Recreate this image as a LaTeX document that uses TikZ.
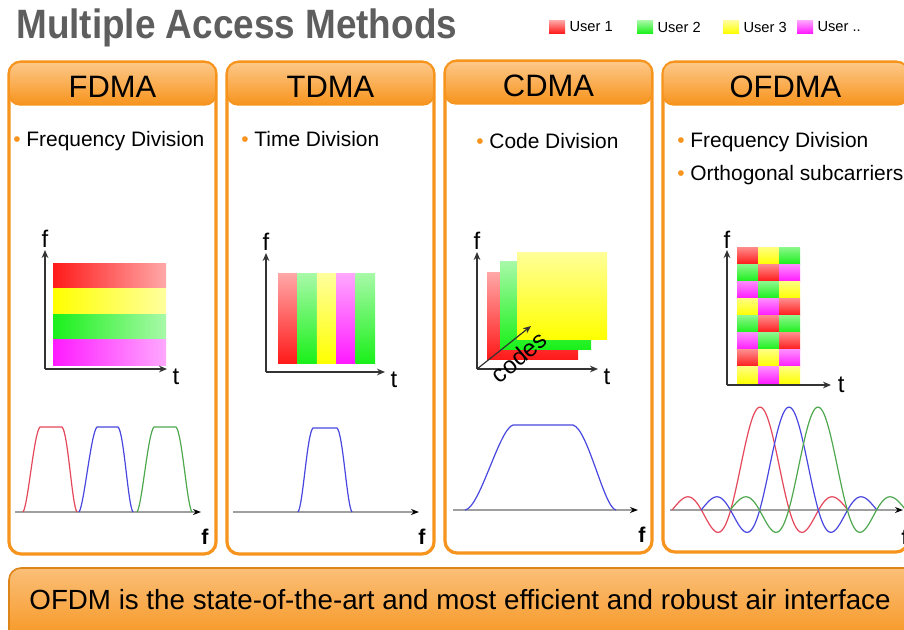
\documentclass[tikz,border=0pt]{standalone}
\usepackage{fontspec}
\setmainfont{Liberation Sans}
\usepackage{tikz}
\usetikzlibrary{positioning}
\usetikzlibrary{arrows.meta}

\definecolor{mborange}{HTML}{F7941D}
\definecolor{mblight}{HTML}{FDC889}
\definecolor{titlegrey}{HTML}{5E5E5E}
\definecolor{axisgrey}{HTML}{333333}
\definecolor{ured}{HTML}{FF1A1A}
\definecolor{ugreen}{HTML}{1AF01A}
\definecolor{uyellow}{HTML}{FFFF00}
\definecolor{umagenta}{HTML}{FF1AFF}
\definecolor{specred}{HTML}{E5485A}
\definecolor{specblue}{HTML}{4848E0}
\definecolor{specgreen}{HTML}{4FA84F}

\tikzset{
  panelbox/.style={draw=mborange, line width=2.4pt, rounded corners=9pt, fill=white},
  headbar/.style={draw=mborange, line width=1.2pt, rounded corners=8pt,
    top color=mblight, bottom color=mborange, minimum width=155pt, minimum height=32pt,
    font=\fontsize{23.2}{25}\selectfont, text height=21pt, text depth=0pt},
  bullettext/.style={anchor=base west, inner sep=0pt, font=\fontsize{15.7}{18}\selectfont},
  axis/.style={draw=axisgrey, line width=1.1pt, -{Stealth[length=6pt,width=5pt]}},
  faxis/.style={draw=gray!75, line width=1pt, -{Stealth[length=6pt,width=4.5pt,black]}},
  axislabel/.style={inner sep=0pt, font=\fontsize{18}{20}\selectfont},
  flabel/.style={inner sep=0pt, font=\fontsize{16}{18}\selectfont\bfseries},
  specline/.style={line width=0.9pt},
  legbox/.style={minimum width=12pt, minimum height=9.5pt, inner sep=0pt},
  legtext/.style={inner sep=0pt, font=\fontsize{11}{12}\selectfont}
}

\begin{document}
\begin{tikzpicture}[x=0.75pt,y=-0.75pt]
  \useasboundingbox (0,0) rectangle (904,629);
  \fill[white] (0,0) rectangle (904,629);

  % title and legend
  \node[anchor=base west, inner sep=0pt, text=titlegrey, font=\fontsize{30.75}{34}\selectfont\bfseries]
    (Title) at (16,38) {\scalebox{0.9}[1]{Multiple Access Methods}};
  \node[legbox, top color=ured!40, bottom color=ured] (LegOne) at (557,27) {};
  \node[legtext, right=3pt of LegOne] (UserOne) {User 1};
  \node[legbox, top color=ugreen!40, bottom color=ugreen] (LegTwo) at (645,27) {};
  \node[legtext, right=3pt of LegTwo] (UserTwo) {User 2};
  \node[legbox, top color=uyellow!40, bottom color=uyellow] (LegThree) at (731,27) {};
  \node[legtext, right=3pt of LegThree] (UserThree) {User 3};
  \node[legbox, top color=umagenta!40, bottom color=umagenta] (LegFour) at (805,27) {};
  \node[legtext, right=3pt of LegFour] (UserFour) {User ..};

  % panels
  \draw[panelbox] (9,62) rectangle (216,554);
  \draw[panelbox] (227,62) rectangle (434,554);
  \draw[panelbox] (445,61) rectangle (652,553);
  \draw[panelbox] (663,62) rectangle (908,552);
  \node[headbar] (FDMA) at (112.5,83.5) {FDMA};
  \node[headbar] (TDMA) at (330.5,83.5) {TDMA};
  \node[headbar] (CDMA) at (548.5,82.5) {CDMA};
  \node[headbar, minimum width=184pt] (OFDMA) at (785.5,83.5) {OFDMA};

  % bullets
  \node[bullettext] (BulFD) at (13,146) {\textcolor{mborange}{•}~Frequency Division};
  \node[bullettext] (BulTD) at (241,146) {\textcolor{mborange}{•}~Time Division};
  \node[bullettext] (BulCD) at (476,148) {\textcolor{mborange}{•}~Code Division};
  \node[bullettext] (BulOF) at (677,147) {\textcolor{mborange}{•}~Frequency Division};
  \node[bullettext] (BulOS) at (677,180) {\textcolor{mborange}{•}~Orthogonal subcarriers};

  % FDMA time-frequency
  \foreach \col [count=\i] in {ured,uyellow,ugreen,umagenta}
    \shade[left color=\col, right color=\col!38] (53,{263+(\i-1)*25.5}) rectangle (166,{263+\i*25.5});
  \coordinate (O1) at (45,369);
  \coordinate (F1) at (45,250);
  \coordinate (T1) at (167,369);
  \draw[axis] (O1) -- (F1);
  \draw[axis] (O1) -- (T1);
  \node[axislabel, above=2pt of F1] (f1) {f};
  \node[axislabel, below right=0pt and 4pt of T1] (t1) {t};

  % TDMA time-frequency
  \foreach \col [count=\i] in {ured,ugreen,uyellow,umagenta,ugreen}
    \shade[top color=\col!38, bottom color=\col] ({278+(\i-1)*19.4},273) rectangle ({278+\i*19.4},363);
  \coordinate (O2) at (266,372);
  \coordinate (F2) at (266,253);
  \coordinate (T2) at (385,372);
  \draw[axis] (O2) -- (F2);
  \draw[axis] (O2) -- (T2);
  \node[axislabel, above=2pt of F2] (f2) {f};
  \node[axislabel, below right=0pt and 4pt of T2] (t2) {t};

  % CDMA codes
  \shade[top color=ured!38, bottom color=ured] (487,272) rectangle (578,359);
  \shade[top color=ugreen!38, bottom color=ugreen] (500,261) rectangle (591,349);
  \shade[top color=uyellow!40, bottom color=uyellow] (517,252) rectangle (607,339);
  \coordinate (O3) at (477,369);
  \coordinate (F3) at (477,252);
  \coordinate (T3) at (598,369);
  \coordinate (C3) at (531,326);
  \draw[axis] (O3) -- (F3);
  \draw[axis] (O3) -- (T3);
  \draw[axis, line width=0.9pt] (O3) -- (C3);
  \node[axislabel, above=2pt of F3] (f3) {f};
  \node[axislabel, below right=0pt and 4pt of T3] (t3) {t};
  \node[axislabel, rotate=40] (codes) at (519,357) {codes};

  % OFDMA grid
  \foreach \row [count=\r] in {{ured,uyellow,ugreen},{ugreen,ured,umagenta},{umagenta,ugreen,uyellow},
      {uyellow,umagenta,ured},{ugreen,ured,ugreen},{umagenta,ugreen,ured},{ured,uyellow,umagenta},
      {uyellow,umagenta,uyellow}}
    \foreach \col [count=\k] in \row
      \shade[top color=\col!50, bottom color=\col] ({737+(\k-1)*21},{247+(\r-1)*17.1}) rectangle ({737+\k*21},{247+\r*17.1});
  \coordinate (O4) at (727,385);
  \coordinate (F4) at (727,250);
  \coordinate (T4) at (831,385);
  \draw[axis] (O4) -- (F4);
  \draw[axis] (O4) -- (T4);
  \node[axislabel, above=1pt of F4] (f4) {f};
  \node[axislabel, right=5pt of T4] (t4) {t};

  % spectra
  \coordinate (S1a) at (15,512);
  \coordinate (S1b) at (201,512);
  \draw[faxis] (S1a) -- (S1b);
  \node[flabel] (fs1) at (205,537) {f};
  \draw[specline, specred] (23,512) .. controls (28,506) and (34,432) .. (40,427) -- (62,427) .. controls (68,432) and (72,506) .. (77,512);
  \draw[specline, specblue] (79,512) .. controls (84,506) and (91,432) .. (97,427) -- (118,427) .. controls (124,432) and (128,506) .. (133,512);
  \draw[specline, specgreen] (137,512) .. controls (142,506) and (148,432) .. (154,427) -- (176,427) .. controls (182,432) and (187,506) .. (192,512);

  \coordinate (S2a) at (233,512);
  \coordinate (S2b) at (419,512);
  \draw[faxis] (S2a) -- (S2b);
  \node[flabel] (fs2) at (422,537) {f};
  \draw[specline, specblue] (298,512) .. controls (303,506) and (307,433) .. (313,428) -- (337,428) .. controls (343,433) and (347,506) .. (352,512);

  \coordinate (S3a) at (453,510);
  \coordinate (S3b) at (638,510);
  \draw[faxis] (S3a) -- (S3b);
  \node[flabel] (fs3) at (642,535) {f};
  \draw[specline, specblue] (465,510) .. controls (480,508) and (499,429) .. (513,425) -- (573,425) .. controls (588,429) and (604,508) .. (616,510);

  \coordinate (S4a) at (670,510);
  \coordinate (S4b) at (903,510);
  \draw[faxis] (S4a) -- (S4b);
  \node[flabel] (fs4) at (905,537) {f};
  \draw[specline, specred] plot[domain=-3:3, samples=100, smooth] ({760+29.3*\x}, {510-103*sin(180*\x)/(pi*\x)});
  \draw[specline, specblue] plot[domain=-3:3, samples=100, smooth] ({789+29.3*\x}, {510-103*sin(180*\x)/(pi*\x)});
  \draw[specline, specgreen] plot[domain=-3:3, samples=100, smooth] ({818+29.3*\x}, {510-103*sin(180*\x)/(pi*\x)});

  % summary banner
  \draw[draw=mborange!90!black, line width=1.2pt, rounded corners=9pt, top color=mborange!60!white, bottom color=mborange]
    (9,568) rectangle (920,645);
  \node[inner sep=0pt, font=\fontsize{20.8}{24}\selectfont] (Summary) at (460,600)
    {OFDM is the state-of-the-art and most efficient and robust air interface};
\end{tikzpicture}
\end{document}
